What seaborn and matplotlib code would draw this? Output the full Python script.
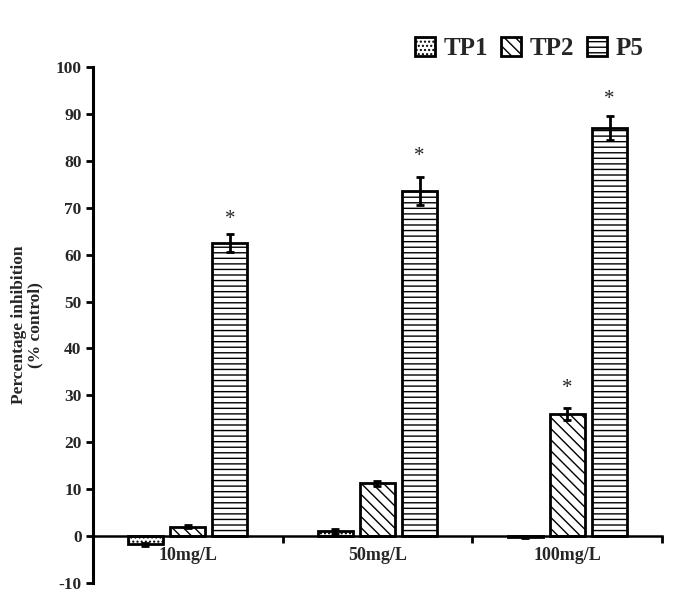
import matplotlib
matplotlib.use('Agg')
import matplotlib.pyplot as plt
import matplotlib.patches as mpatches
import seaborn as sns
import pandas as pd

# Dados
concentracoes = ['10mg/L', '50mg/L', '100mg/L']
series = ['TP1', 'TP2', 'P5']
tp1 = [-1.8, 1.0, -0.3]
tp2 = [2.0, 11.2, 26.0]
p5 = [62.5, 73.5, 87.0]
tp1_err = [0.4, 0.6, 0.2]
tp2_err = [0.3, 0.6, 1.2]
p5_err = [2.0, 3.0, 2.5]
# asteriscos (serie, concentracao, altura)
estrelas = [('P5', '10mg/L', 67.5), ('P5', '50mg/L', 81.0),
            ('P5', '100mg/L', 93.0), ('TP2', '100mg/L', 31.5)]

hachuras = {'TP1': '....', 'TP2': '\\\\\\', 'P5': '---'}

df = pd.DataFrame({
    'conc': concentracoes * 3,
    'serie': [s for s in series for _ in concentracoes],
    'valor': tp1 + tp2 + p5,
    'erro': tp1_err + tp2_err + p5_err,
})

sns.set_style('white')
plt.rcParams['font.family'] = ['Liberation Serif', 'DejaVu Serif']
plt.rcParams['font.weight'] = 'bold'
plt.rcParams['hatch.linewidth'] = 1.0
plt.rcParams['axes.unicode_minus'] = False

fig = plt.figure(figsize=(6.92, 5.93), dpi=100)
ax = fig.add_axes([0.134, 0.017, 0.823, 0.870])

sns.barplot(data=df, x='conc', y='valor', hue='serie', order=concentracoes,
            hue_order=series, width=0.667, gap=0.17, color='white',
            palette=['white'] * 3, edgecolor='black', linewidth=2.0,
            errorbar=None, legend=False, ax=ax)

# hachuras e barras de erro
for serie, cont in zip(series, ax.containers):
    sub = df[df['serie'] == serie].set_index('conc').loc[concentracoes]
    xs = []
    for bar in cont:
        bar.set_hatch(hachuras[serie])
        bar.set_facecolor('white')
        bar.set_edgecolor('black')
        xs.append(bar.get_x() + bar.get_width() / 2)
    ax.errorbar(xs, sub['valor'], yerr=sub['erro'], fmt='none', ecolor='black',
                elinewidth=2.0, capsize=3, capthick=2.0)

# asteriscos
offsets = {s: (i - 1) * 0.222 for i, s in enumerate(series)}
for serie, conc, h in estrelas:
    ax.text(concentracoes.index(conc) + offsets[serie], h, '*', ha='center',
            va='center', fontsize=15, fontweight='normal')

ax.set_xlim(-0.5, 2.5)
ax.set_ylim(-10, 100)
ax.set_yticks(range(-10, 101, 10))
ax.spines['top'].set_visible(False)
ax.spines['right'].set_visible(False)
ax.spines['left'].set_linewidth(2.2)
ax.spines['bottom'].set_linewidth(1.8)
ax.spines['bottom'].set_position(('data', 0))
ax.spines['left'].set_color('black')
ax.spines['bottom'].set_color('black')

ax.set_xticks(range(3))
ax.set_xticklabels(concentracoes, fontsize=13, fontweight='bold')
ax.set_xticks([0.5, 1.5, 2.5], minor=True)
ax.tick_params(axis='x', which='major', length=0, pad=8)
ax.tick_params(axis='x', which='minor', length=5, width=2, direction='out',
               bottom=True, color='black')
ax.tick_params(axis='y', length=5, width=2, direction='out', left=True,
               labelsize=12.5, color='black', pad=3)
for lab in ax.get_yticklabels():
    lab.set_fontweight('bold')
ax.set_xlabel('')
ax.set_ylabel('Percentage inhibition\n(% control)', fontsize=12.5,
              fontweight='bold', labelpad=9, linespacing=1.0)

handles = [mpatches.Rectangle((0, 0), 1, 1, facecolor='white', edgecolor='black',
                              linewidth=2.0, hatch=hachuras[s]) for s in series]
fig.legend(handles, series, loc='center', bbox_to_anchor=(0.765, 0.918), ncol=3,
           frameon=False, prop={'size': 18, 'weight': 'bold'}, handlelength=0.8,
           handleheight=0.8, handletextpad=0.35, columnspacing=0.5)

fig.savefig('out.png', dpi=100)
